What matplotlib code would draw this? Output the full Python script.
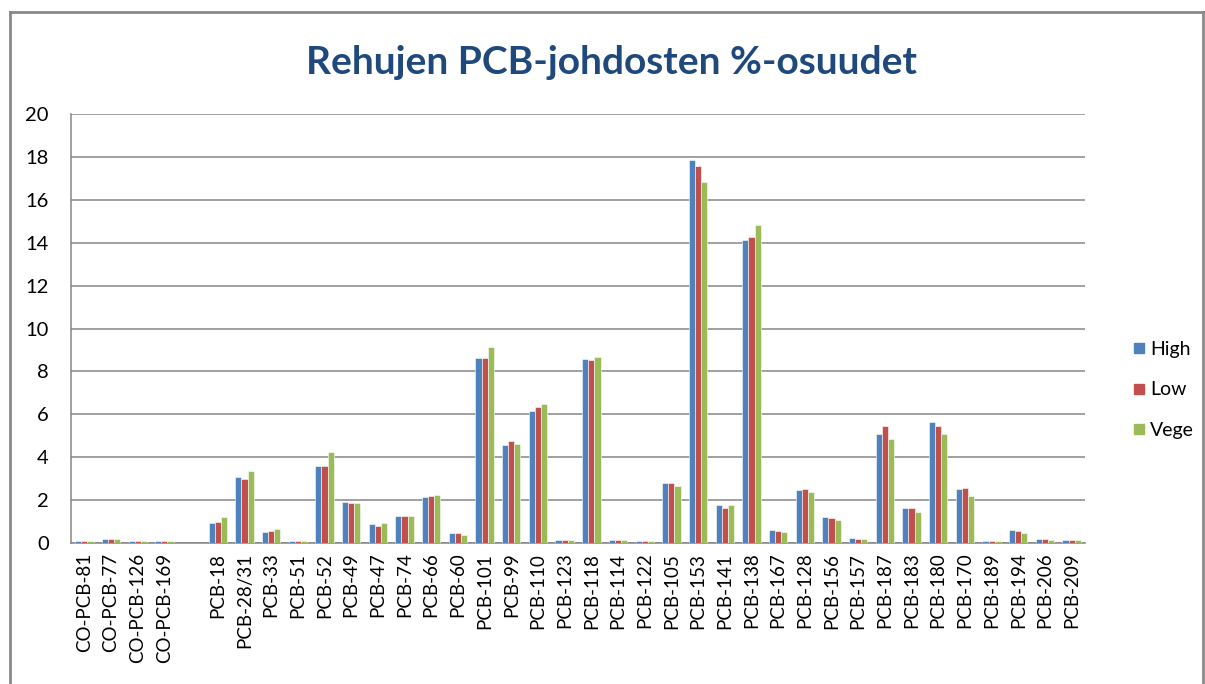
import numpy as np
import matplotlib
matplotlib.use("Agg")
import matplotlib.pyplot as plt
from matplotlib.lines import Line2D

plt.rcParams['font.family'] = ['Lato', 'DejaVu Sans']

categories = ["CO-PCB-81", "CO-PCB-77", "CO-PCB-126", "CO-PCB-169", "",
              "PCB-18", "PCB-28/31", "PCB-33", "PCB-51", "PCB-52", "PCB-49",
              "PCB-47", "PCB-74", "PCB-66", "PCB-60", "PCB-101", "PCB-99",
              "PCB-110", "PCB-123", "PCB-118", "PCB-114", "PCB-122", "PCB-105",
              "PCB-153", "PCB-141", "PCB-138", "PCB-167", "PCB-128", "PCB-156",
              "PCB-157", "PCB-187", "PCB-183", "PCB-180", "PCB-170", "PCB-189",
              "PCB-194", "PCB-206", "PCB-209"]

high = [0.07, 0.18, 0.07, 0.07, 0,
        0.95, 3.10, 0.51, 0.07, 3.60, 1.93,
        0.88, 1.27, 2.13, 0.46, 8.62, 4.57,
        6.14, 0.14, 8.58, 0.14, 0.08, 2.80,
        17.84, 1.75, 14.11, 0.62, 2.47, 1.23,
        0.25, 5.07, 1.65, 5.65, 2.52, 0.08,
        0.62, 0.19, 0.14]
low = [0.07, 0.18, 0.07, 0.07, 0,
       1.00, 3.00, 0.56, 0.07, 3.60, 1.86,
       0.78, 1.27, 2.19, 0.46, 8.62, 4.74,
       6.36, 0.14, 8.52, 0.14, 0.08, 2.80,
       17.59, 1.65, 14.27, 0.57, 2.53, 1.16,
       0.19, 5.44, 1.65, 5.44, 2.58, 0.08,
       0.57, 0.19, 0.14]
vege = [0.07, 0.18, 0.07, 0.07, 0,
        1.21, 3.37, 0.67, 0.07, 4.24, 1.86,
        0.95, 1.27, 2.25, 0.39, 9.12, 4.63,
        6.48, 0.14, 8.69, 0.13, 0.08, 2.67,
        16.81, 1.75, 14.81, 0.51, 2.36, 1.06,
        0.19, 4.85, 1.44, 5.07, 2.19, 0.08,
        0.45, 0.14, 0.14]

series = [("High", high, "#4F81BD"), ("Low", low, "#C0504D"), ("Vege", vege, "#9BBB59")]

fig = plt.figure(figsize=(12.05, 6.84), dpi=100)
ax = fig.add_axes([71 / 1205, 1 - 543 / 684, 1014 / 1205, 429 / 684])

x = np.arange(len(categories))
w = 0.23
for i, (name, vals, col) in enumerate(series):
    ax.bar(x + (i - 1) * w, vals, width=w, color=col, edgecolor='white',
           linewidth=0.4, zorder=3)

ax.set_xlim(-0.5, len(categories) - 0.5)
ax.set_ylim(0, 20)
ax.set_yticks(range(0, 21, 2))
ax.yaxis.grid(True, color='#868686', linewidth=1.1, zorder=0)
ax.set_xticks(x)
ax.set_xticklabels(categories, rotation=90, fontsize=13.5, color='black')
ax.tick_params(axis='x', length=0, pad=7)
ax.tick_params(axis='y', labelsize=14.5, length=0, pad=16)
for s in ['top', 'right']:
    ax.spines[s].set_visible(False)
for s in ['left', 'bottom']:
    ax.spines[s].set_color('#868686')
    ax.spines[s].set_linewidth(1.1)

fig.text(612 / 1205, 1 - 62 / 684, "Rehujen PCB-johdosten %-osuudet", ha='center', va='center',
         fontsize=28, fontweight='bold', color='#1F497D')

handles = [Line2D([], [], marker='s', linestyle='none', markersize=7,
                  markerfacecolor=c, markeredgecolor=c) for _, _, c in series]
fig.legend(handles, [n for n, _, _ in series], loc='center left',
           bbox_to_anchor=(1113 / 1205, 1 - 390 / 684), frameon=False,
           fontsize=14, handletextpad=0.1, labelspacing=1.2, handlelength=0.9)

# chart-area frame
frame_kw = dict(color='#898989', linewidth=2.0, transform=fig.transFigure)
fig.add_artist(Line2D([10 / 1205, 10 / 1205], [0, 1 - 12 / 684], **frame_kw))
fig.add_artist(Line2D([10 / 1205, 1203 / 1205], [1 - 12 / 684, 1 - 12 / 684], **frame_kw))
fig.add_artist(Line2D([1203 / 1205, 1203 / 1205], [0, 1 - 12 / 684], **frame_kw))

fig.savefig("out.png", dpi=100)
